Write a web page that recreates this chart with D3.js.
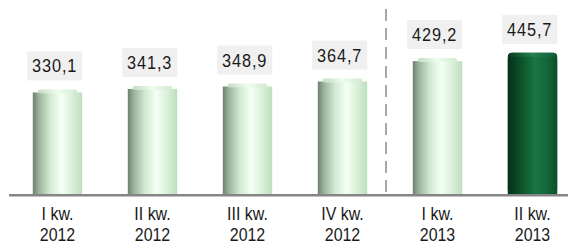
<!DOCTYPE html>
<html>
<head>
<meta charset="utf-8">
<script src="https://cdn.jsdelivr.net/npm/d3@7"></script>
<style>
  body { margin: 0; background: #fff; }
  svg { display: block; }
  .lbl { font-family: 'Liberation Sans', Arial, sans-serif; fill: #1a1a1a; }
</style>
</head>
<body>
<div id="chart"></div>
<script>
(function () {

  // data
  const quarters = ["I kw.", "II kw.", "III kw.", "IV kw.", "I kw.", "II kw."];
  const years = ["2012", "2012", "2012", "2012", "2013", "2013"];
  const values = [330.1, 341.3, 348.9, 364.7, 429.2, 445.7];
  const valueLabels = ["330,1", "341,3", "348,9", "364,7", "429,2", "445,7"];
  const highlight = [false, false, false, false, false, true];

  // chart settings
  const svg_width = 568;
  const svg_height = 248;
  const baseY = 194;

  const data = quarters.map((q, i) => ({
    key: i, quarter: q, year: years[i], value: values[i],
    label: valueLabels[i], dark: highlight[i]
  }));

  const x = d3.scaleBand()
    .domain(data.map(d => d.key))
    .range([10, 580])
    .paddingInner(0.48)
    .paddingOuter(0.24);
  const y = d3.scaleLinear()
    .domain([0, 600])
    .range([baseY, 4]);

  const svg = d3.select("#chart").append("svg")
    .attr("width", svg_width)
    .attr("height", svg_height);

  // gradients
  const defs = svg.append("defs");
  function grad(id, stops) {
    const g = defs.append("linearGradient").attr("id", id)
      .attr("x1", "0%").attr("x2", "100%").attr("y1", "0%").attr("y2", "0%");
    stops.forEach(s => g.append("stop").attr("offset", s[0]).attr("stop-color", s[1]));
  }
  grad("light", [["0%", "#6f7f70"], ["12%", "#9ab29b"], ["35%", "#d2ead2"], ["58%", "#f6fff6"], ["80%", "#d8f0d8"], ["100%", "#bedebe"]]);
  grad("lightCap", [["0%", "#c4dcc4"], ["50%", "#eefcee"], ["100%", "#d0ead0"]]);
  grad("dark", [["0%", "#04301a"], ["25%", "#0c5028"], ["55%", "#1a7444"], ["80%", "#13663a"], ["100%", "#0b4f2a"]]);
  grad("darkCap", [["0%", "#0a4424"], ["50%", "#238050"], ["100%", "#12603a"]]);

  const bw = x.bandwidth();

  // bars
  const bars = svg.selectAll(".bar").data(data).enter().append("g").attr("class", "bar");

  bars.append("rect")
    .attr("x", d => x(d.key))
    .attr("y", d => y(d.value) + (d.dark ? 0 : 3))
    .attr("width", bw)
    .attr("height", d => baseY - y(d.value) - (d.dark ? 0 : 3))
    .attr("rx", d => d.dark ? 4 : 0)
    .attr("fill", d => d.dark ? "url(#dark)" : "url(#light)");

  bars.filter(d => d.dark).append("rect")
    .attr("x", d => x(d.key))
    .attr("y", d => y(d.value) + 6)
    .attr("width", bw)
    .attr("height", d => baseY - y(d.value) - 6)
    .attr("fill", "url(#dark)");

  bars.append("rect")
    .attr("x", d => x(d.key) + (d.dark ? 2 : 5))
    .attr("y", d => y(d.value))
    .attr("width", d => bw - (d.dark ? 4 : 10))
    .attr("height", 4)
    .attr("rx", 2)
    .attr("fill", d => d.dark ? "url(#darkCap)" : "url(#lightCap)");

  // value labels
  const boxW = 55, boxH = 29;
  bars.append("rect")
    .attr("x", d => x(d.key) + bw - boxW)
    .attr("y", d => y(d.value) - 9 - boxH)
    .attr("width", boxW)
    .attr("height", boxH)
    .attr("fill", "#f0f0f0");

  bars.append("text")
    .attr("class", "lbl")
    .attr("transform", d => "translate(" + (x(d.key) + bw - boxW / 2) + "," + (y(d.value) - 9 - boxH + 21) + ") scale(0.86,1)")
    .attr("text-anchor", "middle")
    .style("font-size", "19px")
    .style("letter-spacing", "1px")
    .text(d => d.label);

  // baseline
  svg.append("line")
    .attr("x1", 9).attr("x2", svg_width)
    .attr("y1", baseY + 1.2).attr("y2", baseY + 1.2)
    .attr("stroke", "#858585")
    .attr("stroke-width", 2.5);

  // divider between 2012 and 2013
  const divX = x(4) - x.step() * x.paddingInner() / 2 - 4;
  svg.append("line")
    .attr("x1", divX).attr("x2", divX)
    .attr("y1", 9).attr("y2", baseY - 1)
    .attr("stroke", "#8c8c8c")
    .attr("stroke-width", 1.5)
    .attr("stroke-dasharray", "12,7");

  // category labels
  const cats = svg.selectAll(".cat").data(data).enter().append("g")
    .attr("transform", d => "translate(" + (x(d.key) + bw / 2) + ",0) scale(0.84,1)");
  cats.append("text")
    .attr("class", "lbl")
    .attr("text-anchor", "middle")
    .attr("y", 220)
    .style("font-size", "19px")
    .text(d => d.quarter);
  cats.append("text")
    .attr("class", "lbl")
    .attr("text-anchor", "middle")
    .attr("y", 241)
    .style("font-size", "19px")
    .text(d => d.year);

})();
</script>
</body>
</html>
